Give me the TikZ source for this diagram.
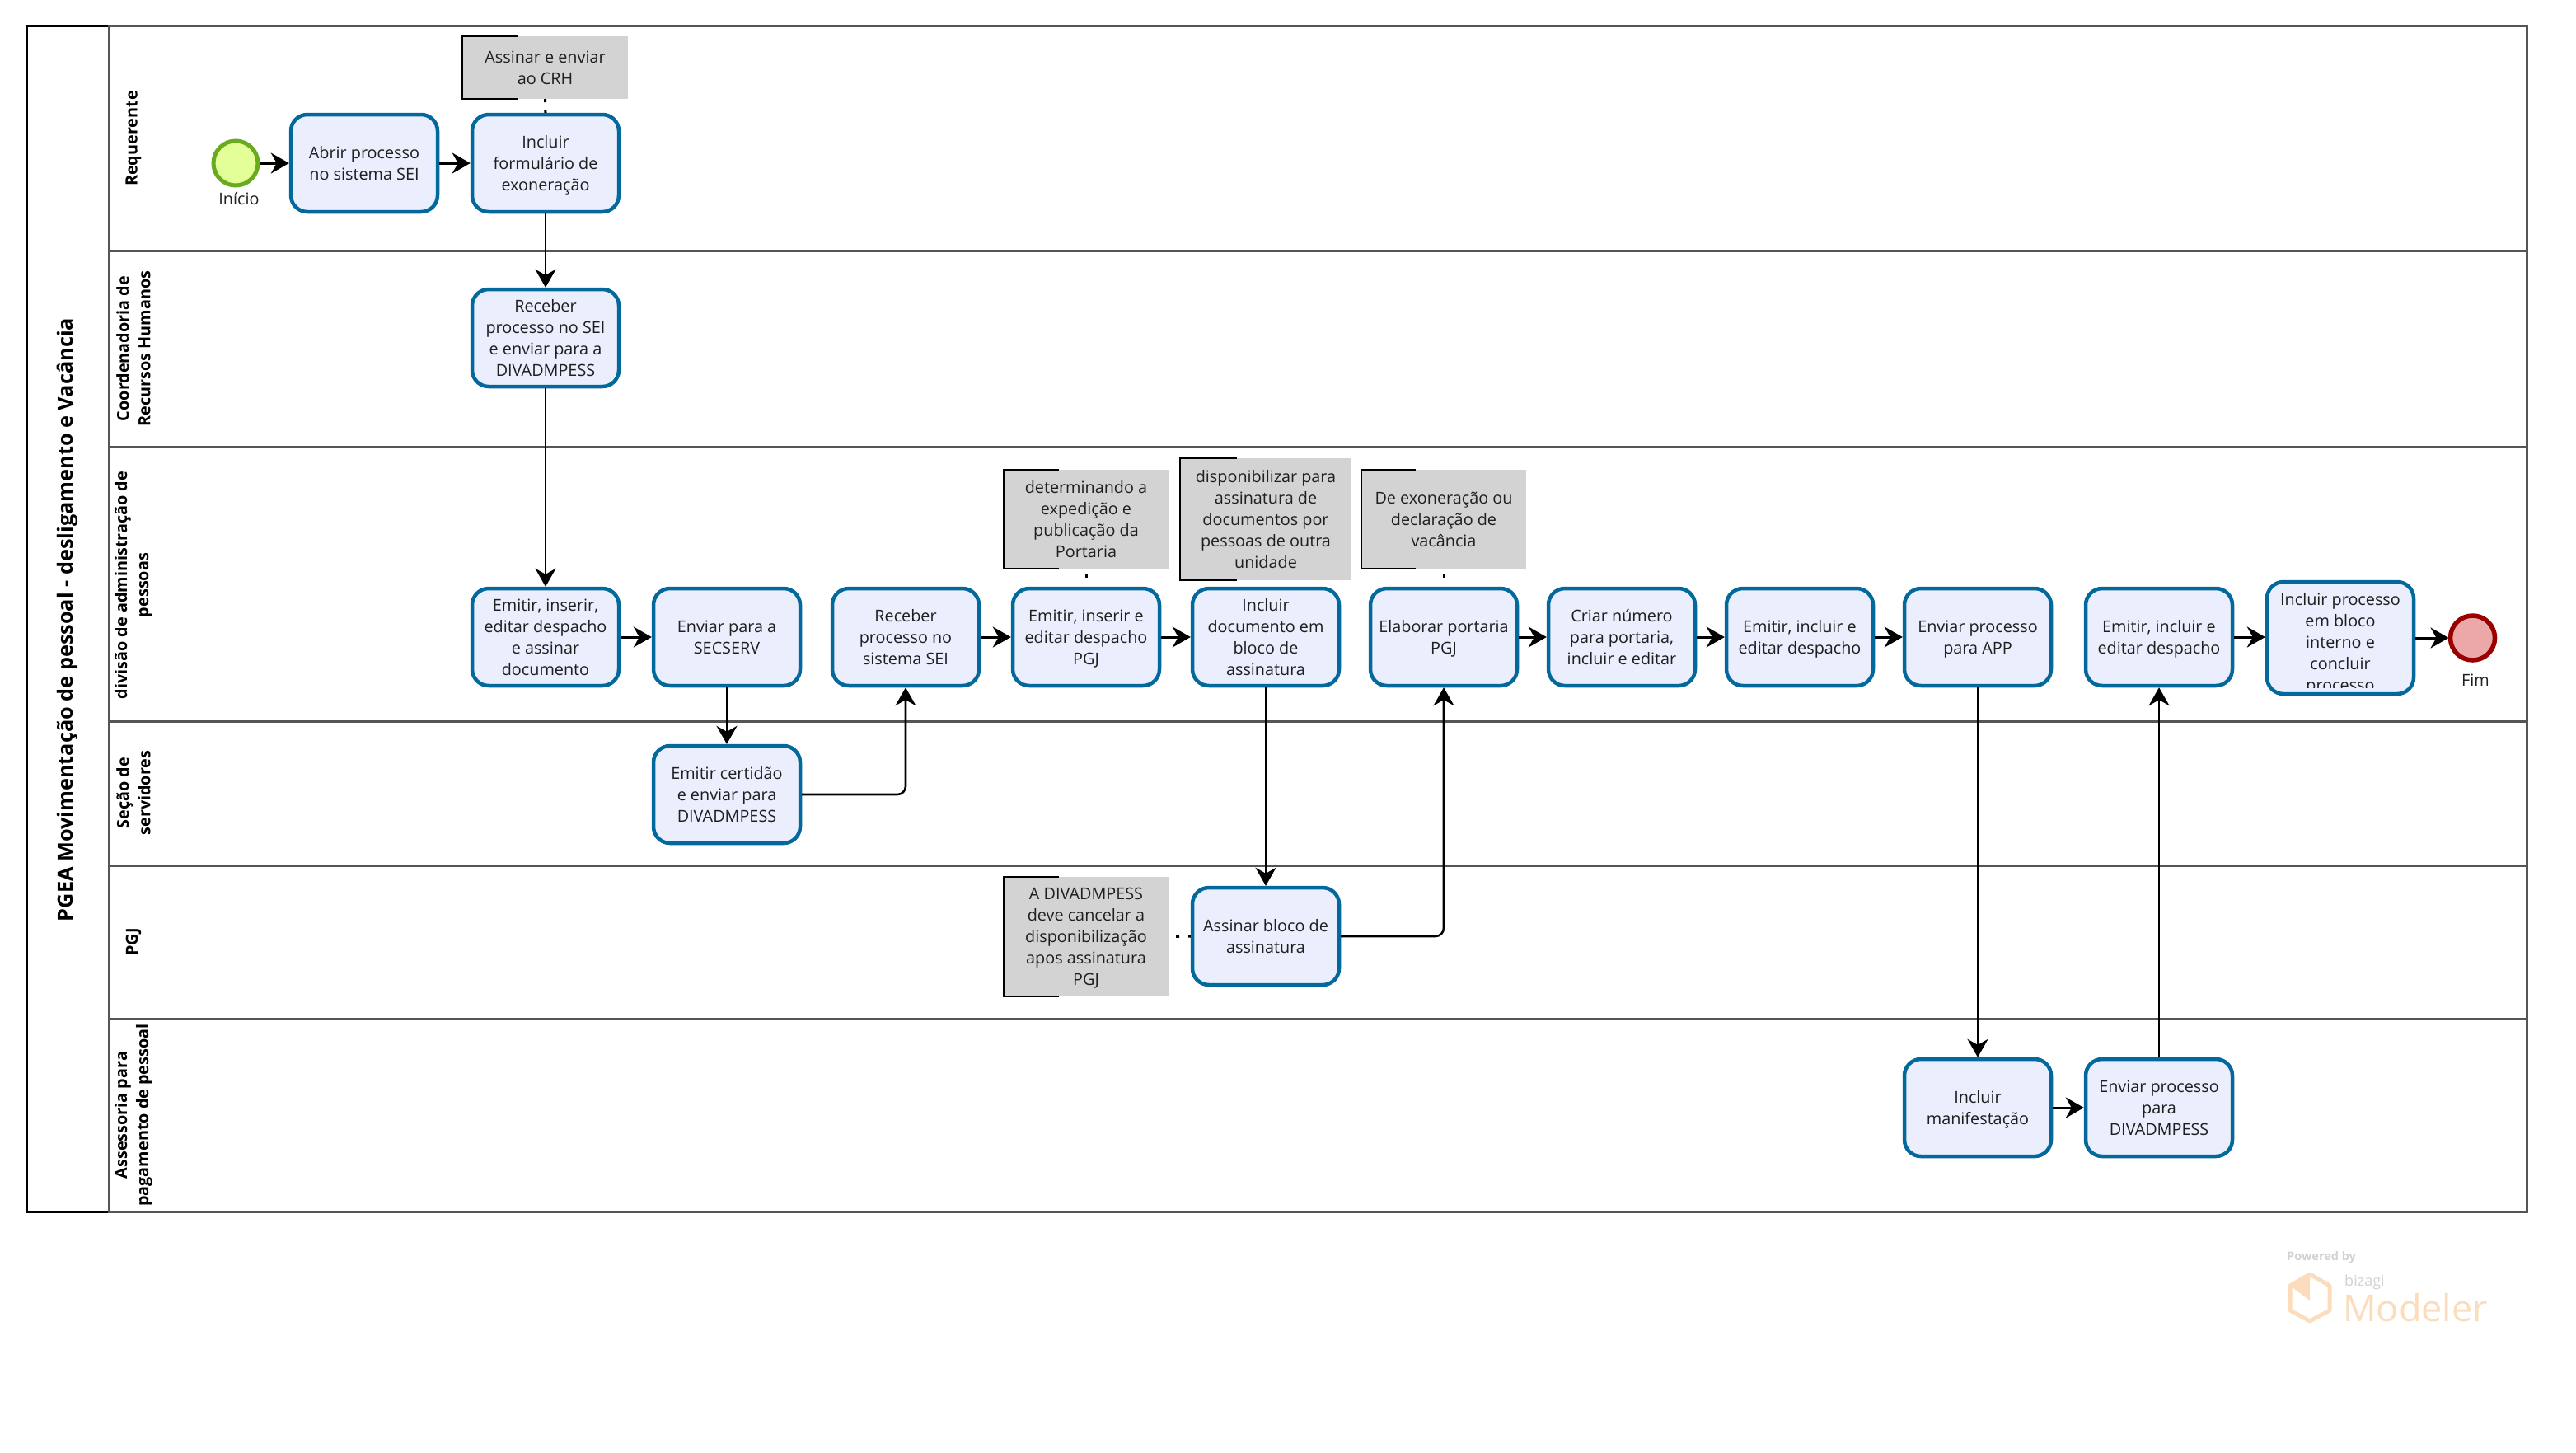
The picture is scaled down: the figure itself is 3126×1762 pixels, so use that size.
\documentclass[tikz,border=0pt]{standalone}
\usepackage{fontspec}
\setmainfont{Open Sans}
\usetikzlibrary{arrows.meta,calc}
\definecolor{taskfill}{HTML}{EAEEFD}
\definecolor{taskline}{HTML}{03689C}
\definecolor{annfill}{HTML}{D3D3D3}
\definecolor{laneline}{HTML}{555555}
\definecolor{txt}{HTML}{1F1F1F}
\definecolor{wmorange}{HTML}{FBDDBD}
\definecolor{wmgrey}{HTML}{D2D2D2}
\tikzset{
  x=1pt,y=-1pt,
  evenlines/.style={text depth=-1pt},
  task/.style={evenlines,draw=taskline,fill=taskfill,line width=4.5pt,rounded corners=20pt,minimum width=178pt,minimum height=118pt,inner sep=0pt,outer sep=2.2pt,align=center,text=txt,font=\fontsize{19.8}{26}\selectfont},
  ann/.style={evenlines,fill=annfill,inner sep=0pt,outer sep=0pt,align=center,text=txt,font=\fontsize{19.8}{26}\selectfont},
  brk/.style={draw=black,line width=1.6pt},
  assoc/.style={draw=black,line width=3pt},
  flow/.style={draw=black,line width=3pt,-{Stealth[length=22pt,width=25pt,inset=7pt]}},
  vflow/.style={draw=black,line width=2.6pt,-{Stealth[length=22pt,width=25pt,inset=7pt]}},
  lane/.style={draw=laneline,line width=3pt},
  lanelabel/.style={rotate=90,align=center,font=\fontsize{19.8}{26}\selectfont\bfseries,text=black,inner sep=0pt},
  evtlabel/.style={font=\fontsize{19.8}{26}\selectfont,text=txt,inner sep=0pt},
}
\begin{document}
\begin{tikzpicture}
\useasboundingbox (0,0) rectangle (3126,1762);
% pool
\draw[draw=black,line width=3pt] (32,31) rectangle (132,1470);
\draw[lane] (132,31) rectangle (3066,1470);
\foreach \yy in {304,542,875,1050,1236} \draw[lane] (132,\yy) -- (3066,\yy);
\node[rotate=90,inner sep=0pt,font=\fontsize{25.3}{30}\selectfont\bfseries] (title) at (82,752) {PGEA Movimentação de pessoal - desligamento e Vacância};
\node[lanelabel] (l1) at (162,168) {Requerente};
\node[lanelabel] (l2) at (162,423) {Coordenadoria de\\Recursos Humanos};
\node[lanelabel] (l3) at (162,710) {divisão de administração de\\pessoas};
\node[lanelabel] (l4) at (162,962) {Seção de\\servidores};
\node[lanelabel] (l5) at (162,1143) {PGJ};
\node[lanelabel] (l6) at (162,1353) {Assessoria para\\pagamento de pessoal};
% events
\node[circle,minimum size=54pt,inner sep=0pt,outer sep=2pt,line width=5pt,draw={rgb,255:red,106;green,170;blue,30},fill={rgb,255:red,227;green,255;blue,152}] (start) at (286,198) {};
\node[evtlabel] (startl) at (290,241) {Início};
\node[circle,minimum size=54pt,inner sep=0pt,outer sep=2pt,line width=5.5pt,draw={rgb,255:red,154;green,0;blue,0},fill={rgb,255:red,236;green,168;blue,168}] (end) at (3000.5,774) {};
\node[evtlabel] (endl) at (3004,825) {Fim};
% tasks
\node[task] (t1) at (442,198) {Abrir processo\\no sistema SEI};
\node[task] (t2) at (662,198) {Incluir\\formulário de\\exoneração};
\node[task] (t3) at (662,410) {Receber\\processo no SEI\\e enviar para a\\DIVADMPESS};
\node[task] (t4) at (662,773) {Emitir, inserir,\\editar despacho\\e assinar\\documento};
\node[task] (t5) at (882,773) {Enviar para a\\SECSERV};
\node[task] (t6) at (882,964) {Emitir certidão\\e enviar para\\DIVADMPESS};
\node[task] (t7) at (1099,773) {Receber\\processo no\\sistema SEI};
\node[task] (t8) at (1318,773) {Emitir, inserir e\\editar despacho\\PGJ};
\node[task] (t9) at (1536,773) {Incluir\\documento em\\bloco de\\assinatura};
\node[task] (t10) at (1752,773) {Elaborar portaria\\PGJ};
\node[task] (t11) at (1968,773) {Criar número\\para portaria,\\incluir e editar};
\node[task] (t12) at (2184,773) {Emitir, incluir e\\editar despacho};
\node[task] (t13) at (2400,773) {Enviar processo\\para APP};
\node[task] (t14) at (2620,773) {Emitir, incluir e\\editar despacho};
\node[task,minimum height=136pt] (t15) at (2840,774) {};
\begin{scope}
\clip (2745,700) rectangle (2935,834);
\node[align=center,text=txt,font=\fontsize{19.8}{26}\selectfont,inner sep=0pt] (t15text) at (2840,781) {Incluir processo\\em bloco\\interno e\\concluir\\processo};
\end{scope}
\node[task] (t16) at (1536,1136) {Assinar bloco de\\assinatura};
\node[task] (t17) at (2400,1344) {Incluir\\manifestação};
\node[task] (t18) at (2620,1344) {Enviar processo\\para\\DIVADMPESS};
% annotations
\node[ann,minimum width=201pt,minimum height=76pt] (a1) at (661.5,82) {Assinar e enviar\\ao CRH};
\node[ann,minimum width=200pt,minimum height=120pt] (a2) at (1318,630) {determinando a\\expedição e\\publicação da\\Portaria};
\node[ann,minimum width=208pt,minimum height=148pt] (a3) at (1536,630) {disponibilizar para\\assinatura de\\documentos por\\pessoas de outra\\unidade};
\node[ann,minimum width=200pt,minimum height=120pt] (a4) at (1752,630) {De exoneração ou\\declaração de\\vacância};
\node[ann,minimum width=200pt,minimum height=145pt] (a5) at (1318,1136.5) {A DIVADMPESS\\deve cancelar a\\disponibilização\\apos assinatura\\PGJ};
\foreach \n/\w in {a1/68,a2/67,a3/69,a4/66,a5/67}
  \draw[brk] ([xshift=\w pt]\n.north west) -- (\n.north west) -- (\n.south west) -- ([xshift=\w pt]\n.south west);
% associations
\draw[assoc,dash pattern=on 4pt off 10pt] (a1.south) -- (t2.north);
\draw[assoc,dash pattern=on 4pt off 11pt,dash phase=8pt] (a2.south) -- (t8.north);
\draw[assoc,dash pattern=on 4pt off 11pt,dash phase=6pt] (a3.south) -- (t9.north);
\draw[assoc,dash pattern=on 4pt off 11pt,dash phase=8pt] (a4.south) -- (t10.north);
\draw[assoc,dash pattern=on 4pt off 11pt,dash phase=6pt] (a5.east) -- (t16.west);
% flows
\draw[flow] (start) -- (t1);
\draw[flow] (t1) -- (t2);
\draw[vflow] (t2) -- (t3);
\draw[vflow] (t3) -- (t4);
\draw[flow] (t4) -- (t5);
\draw[vflow] (t5) -- (t6);
\draw[flow,line width=2.6pt,rounded corners=10pt] (t6.east) -| (t7.south);
\draw[flow] (t7) -- (t8);
\draw[flow] (t8) -- (t9);
\draw[vflow] (t9) -- (t16);
\draw[flow,line width=2.6pt,rounded corners=10pt] (t16.east) -| (t10.south);
\draw[flow] (t10) -- (t11);
\draw[flow] (t11) -- (t12);
\draw[flow] (t12) -- (t13);
\draw[vflow] (t13) -- (t17);
\draw[flow] (t17) -- (t18);
\draw[vflow] (t18) -- (t14);
\draw[flow] (t14.east) -- (t14.east -| t15.west);
\draw[flow] (t15.east |- end) -- (end);
% watermark
\node[inner sep=0pt,font=\fontsize{14.5}{16}\selectfont\bfseries,text=wmgrey,anchor=west] (wm1) at (2775,1526) {Powered by};
\node[inner sep=0pt,font=\fontsize{18}{20}\selectfont,text=wmgrey,anchor=west] (wm2) at (2845,1556) {bizagi};
\node[inner sep=0pt,font=\fontsize{45}{48}\selectfont,text=wmorange,anchor=west] (wm3) at (2843,1587) {Modeler};
\draw[draw=wmorange,line width=5pt,line join=round] (2803,1546) -- (2827,1560) -- (2827,1590) -- (2803,1603) -- (2779,1590) -- (2779,1560) -- cycle;
\fill[wmorange] (2803,1546) -- (2803,1578) -- (2779,1560) -- cycle;
\end{tikzpicture}
\end{document}
